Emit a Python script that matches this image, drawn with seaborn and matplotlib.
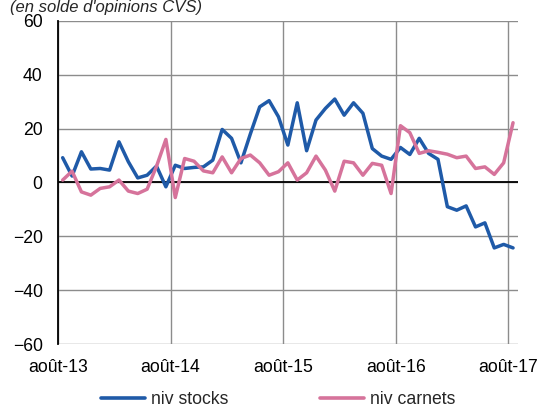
import pandas as pd
import numpy as np
import matplotlib
matplotlib.use("Agg")
import matplotlib.pyplot as plt
import seaborn as sns

sns.set_theme(style="white")
plt.rcParams['font.family'] = ['Liberation Sans', 'DejaVu Sans']

# monthly series, août-13 .. août-17
months = pd.period_range("2013-08", "2017-08", freq="M")
niv_stocks = [9.2, 2.4, 11.4, 5.0, 5.2, 4.6, 15.1, 7.7, 1.7, 2.7, 6.1, -1.6,
              6.4, 5.2, 5.6, 5.8, 8.3, 19.7, 16.4, 7.3, 18.0, 28.1, 30.4, 24.4,
              13.9, 29.6, 11.8, 23.2, 27.5, 31.0, 25.0, 29.6, 25.7, 12.6, 9.8, 8.6,
              13.0, 10.4, 16.4, 10.8, 8.6, -9.0, -10.3, -8.7, -16.5, -15.0, -24.3, -23.0,
              -24.3]
niv_carnets = [0.9, 4.2, -3.5, -4.7, -2.2, -1.6, 0.9, -3.2, -4.1, -2.5, 6.0, 16.0,
               -5.6, 8.9, 7.9, 4.3, 3.6, 9.5, 3.6, 8.9, 10.2, 7.3, 2.7, 4.0,
               7.3, 0.9, 3.6, 9.8, 4.6, -3.2, 7.9, 7.3, 2.7, 7.1, 6.4, -4.1,
               21.1, 18.5, 10.8, 11.8, 11.2, 10.5, 9.2, 9.8, 5.2, 5.8, 3.0, 7.3,
               22.2]
tick_labels = ["août-13", "août-14", "août-15", "août-16", "août-17"]

df = pd.DataFrame({
    "idx": np.arange(len(months)),
    "niv stocks": niv_stocks,
    "niv carnets": niv_carnets,
})
long = df.melt(id_vars="idx", var_name="serie", value_name="val")

fig = plt.figure(figsize=(5.47, 4.11), dpi=100)
ax = fig.add_axes([0.106, 0.163, 0.8405, 0.786])

sns.lineplot(data=long, x="idx", y="val", hue="serie",
             palette={"niv stocks": "#1F5AA8", "niv carnets": "#D6739B"},
             linewidth=2.5, ax=ax, legend=False)

# grid like the excel original
ax.set_xlim(-0.5, len(months) - 0.5)
ax.set_ylim(-60, 60)
ax.set_yticks(range(-60, 61, 20))
ax.set_xticks([-0.5 + 12 * k for k in range(5)])
ax.set_xticklabels(tick_labels)
ax.grid(True, color="#8c8c8c", linewidth=1.0)
ax.set_axisbelow(True)
ax.axhline(0, color="black", linewidth=1.3, zorder=1.5)
for s in ["top", "right", "bottom"]:
    ax.spines[s].set_visible(False)
ax.spines["left"].set_color("black")
ax.spines["left"].set_linewidth(1.3)
ax.tick_params(axis="y", length=0, pad=11, labelsize=12.7, colors="black")
ax.tick_params(axis="x", length=0, pad=11, labelsize=12.7, colors="black")
ax.set_xlabel("")
ax.set_ylabel("")

# subtitle, kept just inside the top edge
fig.text(0.018, 0.972, "(en solde d'opinions CVS)", style="italic",
         fontsize=12, ha="left", va="baseline")

handles = [plt.Line2D([], [], color="#1F5AA8", linewidth=2.6),
           plt.Line2D([], [], color="#D6739B", linewidth=2.6)]
fig.legend(handles, ["niv stocks", "niv carnets"], loc="center",
           bbox_to_anchor=(0.509, 0.027), ncol=2, frameon=False, fontsize=12.7,
           handlelength=2.5, handletextpad=0.34, columnspacing=5.2)

fig.savefig("out.png", dpi=100)
